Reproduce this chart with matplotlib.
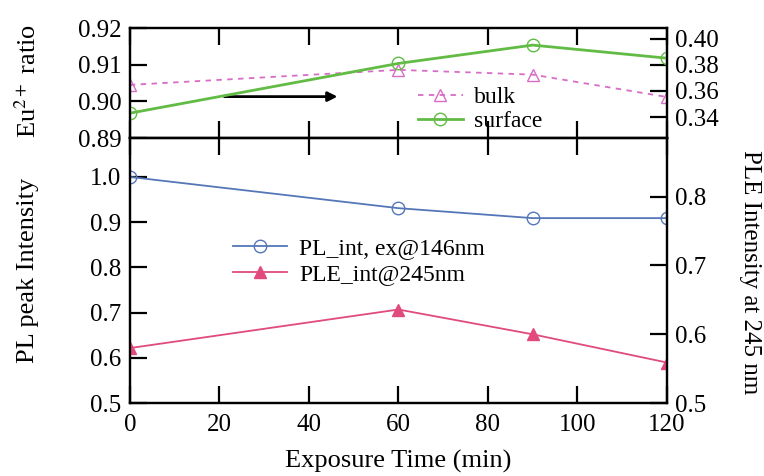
import matplotlib
matplotlib.use("Agg")
import matplotlib.pyplot as plt

plt.rcParams['font.family'] = ['Liberation Serif', 'DejaVu Serif']
plt.rcParams['mathtext.fontset'] = 'stix'
plt.rcParams['font.size'] = 18

# exposure time (min)
time = [0, 60, 90, 120]

# top panel: Eu2+ ratio
bulk = [0.9045, 0.9086, 0.9073, 0.9012]      # left axis
surface = [0.343, 0.381, 0.395, 0.385]       # right axis

# bottom panel
pl_int = [1.0, 0.931, 0.909, 0.909]          # left axis
ple_int = [0.580, 0.636, 0.600, 0.559]       # right axis

x_ticks = [0, 20, 40, 60, 80, 100, 120]

c_bulk = '#d86cc6'
c_surf = '#62bb45'
c_pl = '#5577b8'
c_ple = '#e04a7c'

fig = plt.figure(figsize=(7.64, 4.76), dpi=100)
ax_top = fig.add_axes([0.170, 0.710, 0.703, 0.231])
ax_bot = fig.add_axes([0.170, 0.153, 0.703, 0.557], sharex=ax_top)
ax_top_r = ax_top.twinx()
ax_bot_r = ax_bot.twinx()

def style(ax):
    ax.tick_params(direction='in', length=12, width=1.6, labelsize=18, pad=6)
    for s in ax.spines.values():
        s.set_linewidth(1.6)

for ax in (ax_top, ax_bot, ax_top_r, ax_bot_r):
    style(ax)

# top panel
l1, = ax_top.plot(time, bulk, ls=(0, (3, 3)), color=c_bulk, lw=1.3,
                  marker='^', mfc='none', mec=c_bulk, ms=9, label='bulk')
l2, = ax_top_r.plot(time, surface, ls='-', color=c_surf, lw=2,
                    marker='o', mfc='none', mec=c_surf, ms=9, label='surface')
ax_top.set_xlim(0, 120)
ax_top.set_ylim(0.89, 0.92)
ax_top.set_yticks([0.89, 0.90, 0.91, 0.92])
ax_top.set_yticklabels(['0.89', '0.90', '0.91', '0.92'])
ax_top_r.set_ylim(0.324, 0.408)
ax_top_r.set_yticks([0.34, 0.36, 0.38, 0.40])
ax_top_r.set_yticklabels(['0.34', '0.36', '0.38', '0.40'])
ax_top.set_xticks(x_ticks)
ax_top.tick_params(axis='x', top=True, labelbottom=False)
ax_top.annotate('', xy=(47, 0.9013), xytext=(20.5, 0.9013),
                arrowprops=dict(arrowstyle='-|>', color='black', lw=2,
                                mutation_scale=14))
ax_top_r.legend(handles=[l1, l2], loc='upper left', bbox_to_anchor=(0.536, 0.47),
                frameon=False, fontsize=17, handlelength=1.9,
                labelspacing=0.1, borderpad=0, borderaxespad=0,
                handletextpad=0.5)

# bottom panel
l3, = ax_bot.plot(time, pl_int, ls='-', color=c_pl, lw=1.3,
                  marker='o', mfc='none', mec=c_pl, ms=9,
                  label='PL_int, ex@146nm')
l4, = ax_bot_r.plot(time, ple_int, ls='-', color=c_ple, lw=1.3,
                    marker='^', mfc=c_ple, mec=c_ple, ms=9,
                    label='PLE_int@245nm')
ax_bot.set_ylim(0.5, 1.086)
ax_bot.set_yticks([0.5, 0.6, 0.7, 0.8, 0.9, 1.0])
ax_bot.set_yticklabels(['0.5', '0.6', '0.7', '0.8', '0.9', '1.0'])
ax_bot_r.set_ylim(0.5, 0.885)
ax_bot_r.set_yticks([0.5, 0.6, 0.7, 0.8])
ax_bot_r.set_yticklabels(['0.5', '0.6', '0.7', '0.8'])
ax_bot.set_xticks(x_ticks)
ax_bot.tick_params(axis='x', top=True, pad=8)
ax_bot.legend(handles=[l3, l4], loc='upper left', bbox_to_anchor=(0.192, 0.625),
              frameon=False, fontsize=17, handlelength=2.3,
              labelspacing=0.2, borderpad=0, borderaxespad=0,
              handletextpad=0.5)

# axis labels
fig.text(398 / 764, 1 - 461 / 476, 'Exposure Time (min)', fontsize=19,
         ha='center', va='center')
fig.text(28 / 764, 1 - 270 / 476, 'PL peak Intensity', fontsize=19,
         rotation=90, ha='center', va='center')
fig.text(28 / 764, 1 - 81 / 476, 'Eu$^{2+}$ ratio', fontsize=19,
         rotation=90, ha='center', va='center')
fig.text(750 / 764, 1 - 272 / 476, 'PLE Intensity at 245 nm', fontsize=18,
         rotation=-90, ha='center', va='center')

fig.savefig('out.png', dpi=100)
